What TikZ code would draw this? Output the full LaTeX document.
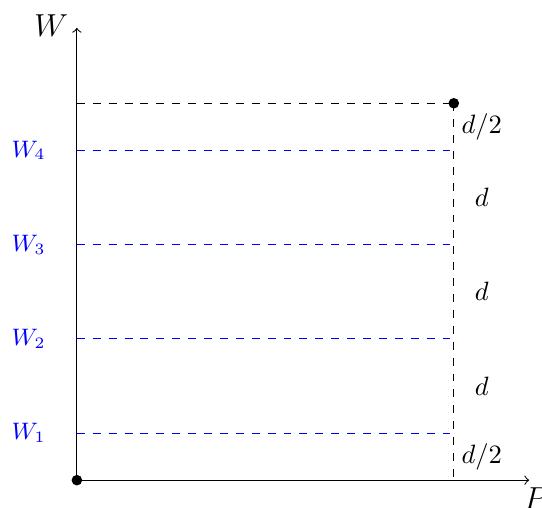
\documentclass[tikz,border=0pt]{standalone}
\usepackage{amsmath,amssymb}
\usepackage{tikz}
\usetikzlibrary{arrows.meta,positioning,calc}

\begin{document}
\begin{tikzpicture}[>=to,
  wlab/.style={blue,font=\small},
  level/.style={blue,dashed},
  guide/.style={dashed}]
\useasboundingbox (-1.02,-0.36) rectangle (6.17,6.37);
\coordinate (O) at (0,0);
\coordinate (Pend) at (6,0);
\coordinate (Wend) at (0,6);
\coordinate (top) at (5,5);
\coordinate (topL) at (0,5);
\coordinate (foot) at (5,0);
\draw[->] (O) -- (Pend);
\draw[->] (O) -- (Wend);
\node (P) at (6.09,-0.24) {\large $P$};
\node (W) at (-0.34,6.03) {\large $W$};
% levels
\coordinate (l1) at (0,0.625);   \coordinate (r1) at (5,0.625);
\coordinate (l2) at (0,1.875);   \coordinate (r2) at (5,1.875);
\coordinate (l3) at (0,3.125);   \coordinate (r3) at (5,3.125);
\coordinate (l4) at (0,4.375);   \coordinate (r4) at (5,4.375);
\draw[level] (l1) -- (r1);
\draw[level] (l2) -- (r2);
\draw[level] (l3) -- (r3);
\draw[level] (l4) -- (r4);
\node[wlab] (w1) at (-0.64,0.625) {$W_1$};
\node[wlab] (w2) at (-0.64,1.875) {$W_2$};
\node[wlab] (w3) at (-0.64,3.125) {$W_3$};
\node[wlab] (w4) at (-0.64,4.375) {$W_4$};
\draw[guide] (topL) -- (top);
\draw[guide] (top) -- (foot);
\fill (O) circle (2pt);
\fill (top) circle (2pt);
% spacings
\node (h1) at (5.37,0.3125) {$d/2$};
\node (d1) at (5.37,1.25) {$d$};
\node (d2) at (5.37,2.5) {$d$};
\node (d3) at (5.37,3.75) {$d$};
\node (h2) at (5.37,4.6875) {$d/2$};
\end{tikzpicture}
\end{document}
